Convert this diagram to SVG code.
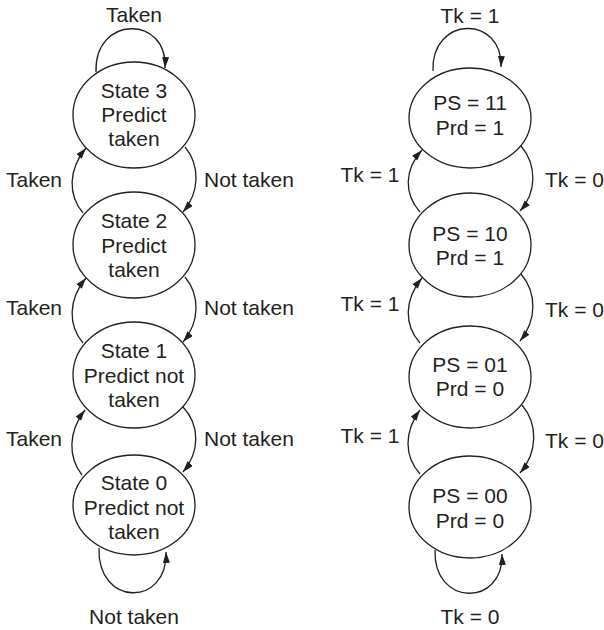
<svg xmlns="http://www.w3.org/2000/svg" width="604" height="630" viewBox="0 0 604 630">
  <defs>
    <marker id="arrow" markerUnits="userSpaceOnUse" markerWidth="12" markerHeight="8" refX="11" refY="3.5" orient="auto">
      <path d="M0,0 L11,3.5 L0,7 z" fill="#231f20"/>
    </marker>
    <style>
      .node ellipse { fill: #ffffff; stroke: #231f20; stroke-width: 1.3; }
      text { font-family: "Liberation Sans", Arial, sans-serif; font-size: 21px; fill: #231f20; }
      .c { text-anchor: middle; }
      .s { text-anchor: start; }
      .edges path { fill: none; stroke: #231f20; stroke-width: 1.3; marker-end: url(#arrow); }
    </style>
  </defs>
  <rect width="604" height="630" fill="#ffffff"/>

  <!-- connectors: self loops, "taken" arcs on the left, "not taken" arcs on the right -->
  <g id="connectors" class="edges">
    <!-- left machine -->
    <path d="M96,72 C94,15 168,15 165,68"/>
    <path d="M83,213 C68,195 68,170 86,148"/>
    <path d="M185,147 C200,165 200,192 183,212"/>
    <path d="M83,343 C68,325 68,300 86,278"/>
    <path d="M185,277 C200,295 200,322 183,342"/>
    <path d="M82,475 C68,457 68,432 85,410"/>
    <path d="M183,407 C200,425 200,452 183,472"/>
    <path d="M99,548 C97,607 168,607 166,552"/>
    <!-- right machine -->
    <path d="M433,71 C431,15 503,15 501,67"/>
    <path d="M420,212 C404,194 404,170 422,150"/>
    <path d="M521,146 C537,165 537,192 520,211"/>
    <path d="M420,343 C404,325 404,300 422,278"/>
    <path d="M521,274 C537,293 537,320 520,341"/>
    <path d="M420,474 C404,456 404,432 420,410"/>
    <path d="M522,405 C538,424 538,452 520,473"/>
    <path d="M435,550 C433,607 504,607 502,554"/>
  </g>

  <!-- edge labels -->
  <g id="labels">
    <text class="c" x="134" y="22">Taken</text>
    <text class="c" x="34" y="187">Taken</text>
    <text class="s" x="204" y="187">Not taken</text>
    <text class="c" x="34" y="315">Taken</text>
    <text class="s" x="204" y="315">Not taken</text>
    <text class="c" x="34" y="446">Taken</text>
    <text class="s" x="204" y="446">Not taken</text>
    <text class="c" x="134" y="624">Not taken</text>

    <text class="c" x="470" y="23">Tk = 1</text>
    <text class="c" x="370" y="182">Tk = 1</text>
    <text class="s" x="545" y="187">Tk = 0</text>
    <text class="c" x="370" y="311">Tk = 1</text>
    <text class="s" x="545" y="317">Tk = 0</text>
    <text class="c" x="370" y="443">Tk = 1</text>
    <text class="s" x="545" y="448">Tk = 0</text>
    <text class="c" x="470" y="624">Tk = 0</text>
  </g>

  <!-- left machine states -->
  <g id="state3" class="node">
    <ellipse cx="134" cy="115" rx="61" ry="53"/>
    <text class="c" x="134" y="98">State 3</text>
    <text class="c" x="134" y="122">Predict</text>
    <text class="c" x="134" y="146">taken</text>
  </g>
  <g id="state2" class="node">
    <ellipse cx="134" cy="245" rx="61" ry="53"/>
    <text class="c" x="134" y="228">State 2</text>
    <text class="c" x="134" y="253">Predict</text>
    <text class="c" x="134" y="277">taken</text>
  </g>
  <g id="state1" class="node">
    <ellipse cx="134" cy="375" rx="61" ry="53"/>
    <text class="c" x="134" y="358">State 1</text>
    <text class="c" x="134" y="383">Predict not</text>
    <text class="c" x="134" y="407">taken</text>
  </g>
  <g id="state0" class="node">
    <ellipse cx="134" cy="505" rx="61" ry="50"/>
    <text class="c" x="134" y="490">State 0</text>
    <text class="c" x="134" y="515">Predict not</text>
    <text class="c" x="134" y="539">taken</text>
  </g>

  <!-- right machine states -->
  <g id="ps11" class="node">
    <ellipse cx="470" cy="118" rx="61" ry="50"/>
    <text class="c" x="470" y="110">PS = 11</text>
    <text class="c" x="470" y="135">Prd = 1</text>
  </g>
  <g id="ps10" class="node">
    <ellipse cx="470" cy="245" rx="61" ry="52"/>
    <text class="c" x="470" y="241">PS = 10</text>
    <text class="c" x="470" y="265">Prd = 1</text>
  </g>
  <g id="ps01" class="node">
    <ellipse cx="470" cy="377" rx="61" ry="51"/>
    <text class="c" x="470" y="372">PS = 01</text>
    <text class="c" x="470" y="396">Prd = 0</text>
  </g>
  <g id="ps00" class="node">
    <ellipse cx="470" cy="507" rx="61" ry="51"/>
    <text class="c" x="470" y="503">PS = 00</text>
    <text class="c" x="470" y="528">Prd = 0</text>
  </g>
</svg>
